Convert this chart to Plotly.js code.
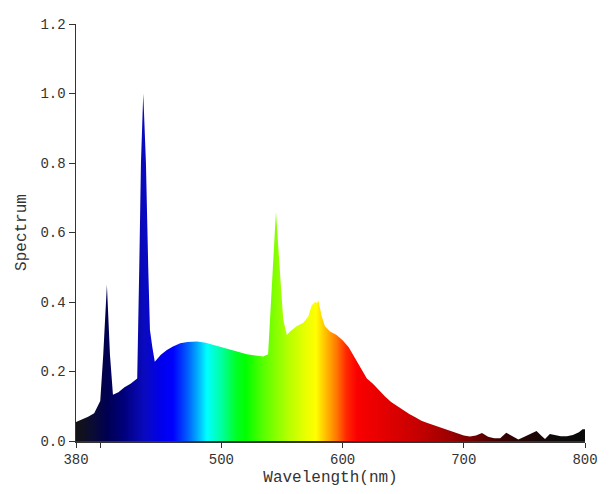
<!DOCTYPE html>
<html>
<head>
<meta charset="utf-8">
<script src="https://cdn.plot.ly/plotly-3.0.1.min.js"></script>
<style>html,body{margin:0;padding:0;background:#fff;}#chart{width:612px;height:494px;}</style>
</head>
<body>
<div id="chart"></div>
<script>
// Wavelength (nm)
const wavelength = [380,385,390,395,400,402.5,405.5,408,410.5,415,420,425,430.5,432.2,433.6,435.5,437.7,439.6,441,443,445,450,455,460,466,472,480,487,493,500,507,514,521,528,534.5,538.5,541.7,545,549,551,554,556.6,562,567.5,571.7,574.4,577.2,579,580,582.7,585.4,589.6,595,600,605,610,615,620,625,630,635,640,645,650,655,660,665,670,675,680,685,690,695,700,705,710,715,720,725,730,735,740,745,750,755,760,764,767,771,775,780,785,790,795,798,800];
// Relative spectrum
const spectrum = [0.055,0.062,0.07,0.08,0.115,0.25,0.45,0.25,0.133,0.14,0.155,0.165,0.18,0.5,0.8,1.0,0.8,0.5,0.32,0.27,0.228,0.248,0.262,0.272,0.281,0.285,0.286,0.283,0.277,0.27,0.262,0.255,0.25,0.246,0.243,0.25,0.45,0.66,0.45,0.35,0.305,0.315,0.33,0.34,0.358,0.39,0.4,0.397,0.405,0.36,0.33,0.315,0.305,0.29,0.27,0.24,0.21,0.18,0.165,0.145,0.128,0.112,0.1,0.089,0.078,0.068,0.058,0.052,0.046,0.039,0.034,0.029,0.022,0.016,0.013,0.016,0.023,0.012,0.008,0.008,0.024,0.014,0.004,0.012,0.02,0.029,0.015,0.006,0.02,0.017,0.014,0.014,0.017,0.025,0.034,0.034];
// Colour stops along the wavelength axis
const colorWavelengths = [380,395,405,420,436,450,460,468,475,482,488,500,512,520,535,555,570,578,586,595,603,612,630,660,690,710,730,750,775,800];
const colorValues = ['rgb(20,20,20)','rgb(10,10,55)','rgb(0,0,80)','rgb(0,0,125)','rgb(10,10,190)','rgb(0,0,235)','rgb(0,0,255)','rgb(0,60,255)','rgb(0,120,255)','rgb(0,190,255)','rgb(0,255,255)','rgb(0,255,160)','rgb(0,255,40)','rgb(0,255,0)','rgb(90,255,0)','rgb(180,255,0)','rgb(235,255,0)','rgb(255,255,0)','rgb(255,190,0)','rgb(255,120,0)','rgb(255,40,0)','rgb(250,0,0)','rgb(232,0,0)','rgb(200,0,0)','rgb(155,0,0)','rgb(110,0,0)','rgb(60,0,0)','rgb(35,5,5)','rgb(15,10,10)','rgb(10,10,10)'];
const xTickVals = [380,400,500,600,700,800];
const xTickText = ['380','','500','600','700','800'];

const wMin = 380, wMax = 800;
const colorscale = colorWavelengths.map((w, i) => [(w - wMin) / (wMax - wMin), colorValues[i]]);

const trace = {
  x: wavelength,
  y: spectrum,
  type: 'scatter',
  mode: 'lines',
  fill: 'tozeroy',
  line: {width: 0, color: 'rgba(0,0,0,0)'},
  fillgradient: {type: 'horizontal', colorscale: colorscale, start: wMin, stop: wMax},
  hoverinfo: 'x+y'
};

const fam = '"Liberation Mono", "Courier New", monospace';
const font = {family: fam, size: 14, color: '#333'};

const layout = {
  width: 612, height: 494,
  margin: {l: 76, r: 27, t: 24, b: 53},
  paper_bgcolor: '#fff', plot_bgcolor: '#fff',
  showlegend: false,
  font: font,
  xaxis: {
    range: [wMin, wMax],
    tickvals: xTickVals, ticktext: xTickText,
    ticks: 'outside', ticklen: 5, tickcolor: '#333', tickwidth: 1,
    showline: true, linecolor: '#333', linewidth: 1.5,
    showgrid: false, zeroline: false,
    tickfont: font,
    title: {text: 'Wavelength(nm)', font: {family: fam, size: 16, color: '#333'}, standoff: 3}
  },
  yaxis: {
    range: [0, 1.2],
    tickvals: [0, 0.2, 0.4, 0.6, 0.8, 1.0, 1.2],
    ticktext: ['0.0','0.2','0.4','0.6','0.8','1.0','1.2'],
    ticks: 'outside', ticklen: 6, tickcolor: '#333', tickwidth: 1,
    showline: true, linecolor: '#333', linewidth: 1.5,
    showgrid: false, zeroline: false,
    tickfont: font,
    title: {text: 'Spectrum', font: {family: fam, size: 16, color: '#333'}, standoff: 10}
  }
};

Plotly.newPlot('chart', [trace], layout, {displayModeBar: false, staticPlot: true});
</script>
</body>
</html>
